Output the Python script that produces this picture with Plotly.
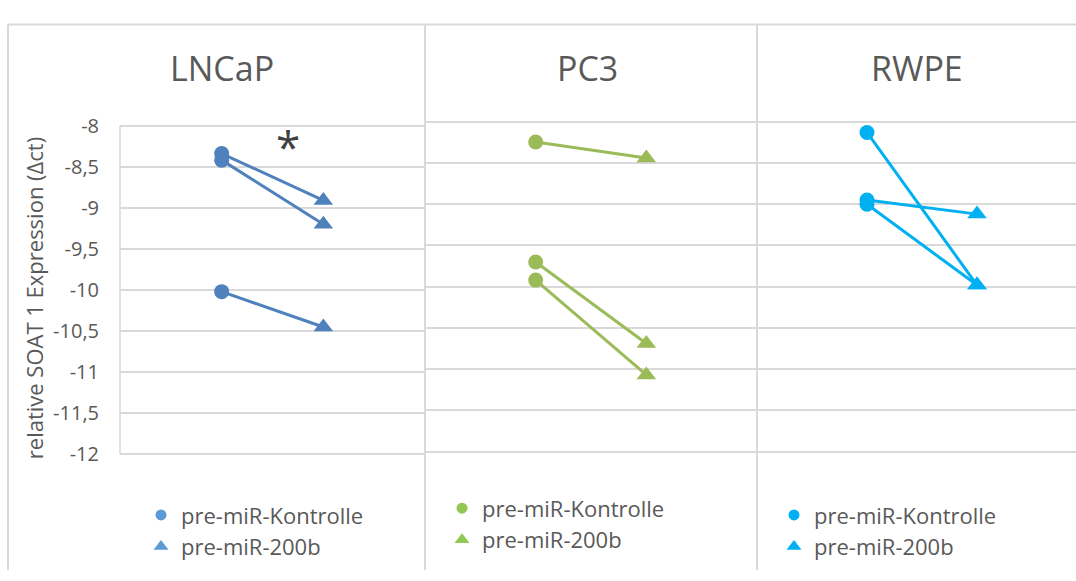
import plotly.graph_objects as go

# Expression values (delta ct) per cell line: each replicate pairs a control with a pre-miR-200b value
cell_lines = ["LNCaP", "PC3", "RWPE"]
groups = ["pre-miR-Kontrolle", "pre-miR-200b"]

lncap_kontrolle = [-8.34, -8.42, -10.02]
lncap_200b = [-8.91, -9.20, -10.45]

pc3_kontrolle = [-8.245, -9.70, -9.92]
pc3_200b = [-8.44, -10.69, -11.07]

rwpe_kontrolle = [-8.13, -8.95, -9.00]
rwpe_200b = [-9.98, -9.12, -9.98]

y_ticks = [-8, -8.5, -9, -9.5, -10, -10.5, -11, -11.5, -12]
y_tick_labels = ["-8", "-8,5", "-9", "-9,5", "-10", "-10,5", "-11", "-11,5", "-12"]
y_title = "relative SOAT 1 Expression (\u0394ct)"

W, H = 1076, 581
FONT = "Open Sans"
TEXT = "#595959"
GRID = "#D9D9D9"

line_colors = ["#4F81BD", "#9BBB59", "#00B0F0"]
legend_colors = ["#5B9BD5", "#92C851", "#00B0F0"]
panels = [
    (lncap_kontrolle, lncap_200b),
    (pc3_kontrolle, pc3_200b),
    (rwpe_kontrolle, rwpe_200b),
]


def px_x(v):
    return v / W


def px_y(v):
    return 1 - v / H


fig = go.Figure()

legend_names = ["legend", "legend2", "legend3"]
for i, (ctrl, treated) in enumerate(panels):
    ax = "" if i == 0 else str(i + 1)
    for a, b in zip(ctrl, treated):
        fig.add_trace(go.Scatter(
            x=[1, 2], y=[a, b], xaxis="x" + ax, yaxis="y" + ax,
            mode="lines+markers",
            line=dict(color=line_colors[i], width=3),
            marker=dict(symbol=["circle", "triangle-up"], size=[15, 17],
                        color=line_colors[i], opacity=1,
                        line=dict(width=0)),
            showlegend=False, hoverinfo="skip",
        ))
    # legend entries for each panel
    for name, sym, size in zip(groups, ["circle", "triangle-up"], [11, 13]):
        fig.add_trace(go.Scatter(
            x=[None], y=[None], xaxis="x" + ax, yaxis="y" + ax,
            mode="markers", name=name,
            marker=dict(symbol=sym, size=size, color=legend_colors[i],
                        line=dict(width=0)),
            legend=legend_names[i],
        ))

# plot-area geometry in pixels: left/right edges, and pixel rows of -8 and -12
x_domains = [(120, 425), (425, 757), (757, 1076)]
y_rows = [(118.3, 460.6), (114.3, 457.7), (114.3, 457.7)]
x_ranges = [[0, 3], [0, 3], [0, 2.9]]
Y_LO, Y_HI = -12.03, -7.97  # small pad so the -8 and -12 gridlines are drawn

layout = dict(
    width=W, height=H,
    margin=dict(l=0, r=0, t=0, b=0),
    paper_bgcolor="white", plot_bgcolor="white",
    font=dict(family=FONT, color=TEXT),
    showlegend=True,
)

for i in range(3):
    suffix = "" if i == 0 else str(i + 1)
    x0, x1 = x_domains[i]
    r8, r12 = y_rows[i]
    per_unit = (r12 - r8) / 4.0
    top = r8 - (Y_HI - (-8)) * per_unit
    bot = r12 + ((-12) - Y_LO) * per_unit
    layout["xaxis" + suffix] = dict(
        domain=[px_x(x0), px_x(x1)], range=x_ranges[i],
        showgrid=False, zeroline=False, showticklabels=False,
        showline=False, fixedrange=True,
        anchor="y" + suffix,
    )
    layout["yaxis" + suffix] = dict(
        domain=[px_y(bot), px_y(top)], range=[Y_LO, Y_HI],
        tickvals=y_ticks, ticktext=y_tick_labels,
        showticklabels=(i == 0),
        showgrid=True, gridcolor=GRID, gridwidth=1.5,
        zeroline=False,
        showline=False,
        ticks="", ticklabelstandoff=20,
        tickfont=dict(family=FONT, size=20, color=TEXT),
        anchor="x" + suffix,
    )

legend_pos = [(141, 502), (442, 495), (774, 502)]
for i, name in enumerate(legend_names):
    lx, ly = legend_pos[i]
    layout[name] = dict(
        x=px_x(lx), y=px_y(ly), xanchor="left", yanchor="top",
        font=dict(family=FONT, size=22, color=TEXT),
        bgcolor="rgba(0,0,0,0)", borderwidth=0,
        tracegroupgap=0, itemsizing="trace",
    )

fig.update_layout(**layout)

# frame, panel separators and the LNCaP value-axis line
shapes = [
    dict(type="line", xref="paper", yref="paper",
         x0=px_x(8), x1=1, y0=px_y(13), y1=px_y(13),
         line=dict(color=GRID, width=2)),
    dict(type="line", xref="paper", yref="paper",
         x0=px_x(8), x1=px_x(8), y0=px_y(13), y1=0,
         line=dict(color=GRID, width=2)),
    dict(type="line", xref="paper", yref="paper",
         x0=px_x(425), x1=px_x(425), y0=px_y(13), y1=0,
         line=dict(color=GRID, width=2)),
    dict(type="line", xref="paper", yref="paper",
         x0=px_x(757), x1=px_x(757), y0=px_y(13), y1=0,
         line=dict(color=GRID, width=2)),
    dict(type="line", xref="paper", yref="y",
         x0=px_x(120), x1=px_x(120), y0=-12, y1=-8,
         line=dict(color=GRID, width=1.5)),
]
fig.update_layout(shapes=shapes)

annotations = []
title_x = [222, 587, 917]
for name, tx in zip(cell_lines, title_x):
    annotations.append(dict(
        text=name, xref="paper", yref="paper", x=px_x(tx), y=px_y(58),
        xanchor="center", yanchor="middle", showarrow=False,
        font=dict(family=FONT, size=34, color=TEXT),
    ))
annotations.append(dict(
    text=y_title, xref="paper", yref="paper", x=px_x(34), y=px_y(298),
    xanchor="center", yanchor="middle", textangle=-90, showarrow=False,
    font=dict(family=FONT, size=22, color=TEXT),
))
# significance marker for LNCaP
annotations.append(dict(
    text="*", xref="x", yref="y", x=1.65, y=-8.25,
    xanchor="center", yanchor="middle", showarrow=False,
    font=dict(family=FONT, size=44, color="#404040"),
))
fig.update_layout(annotations=annotations)

fig.write_html("out.html")
